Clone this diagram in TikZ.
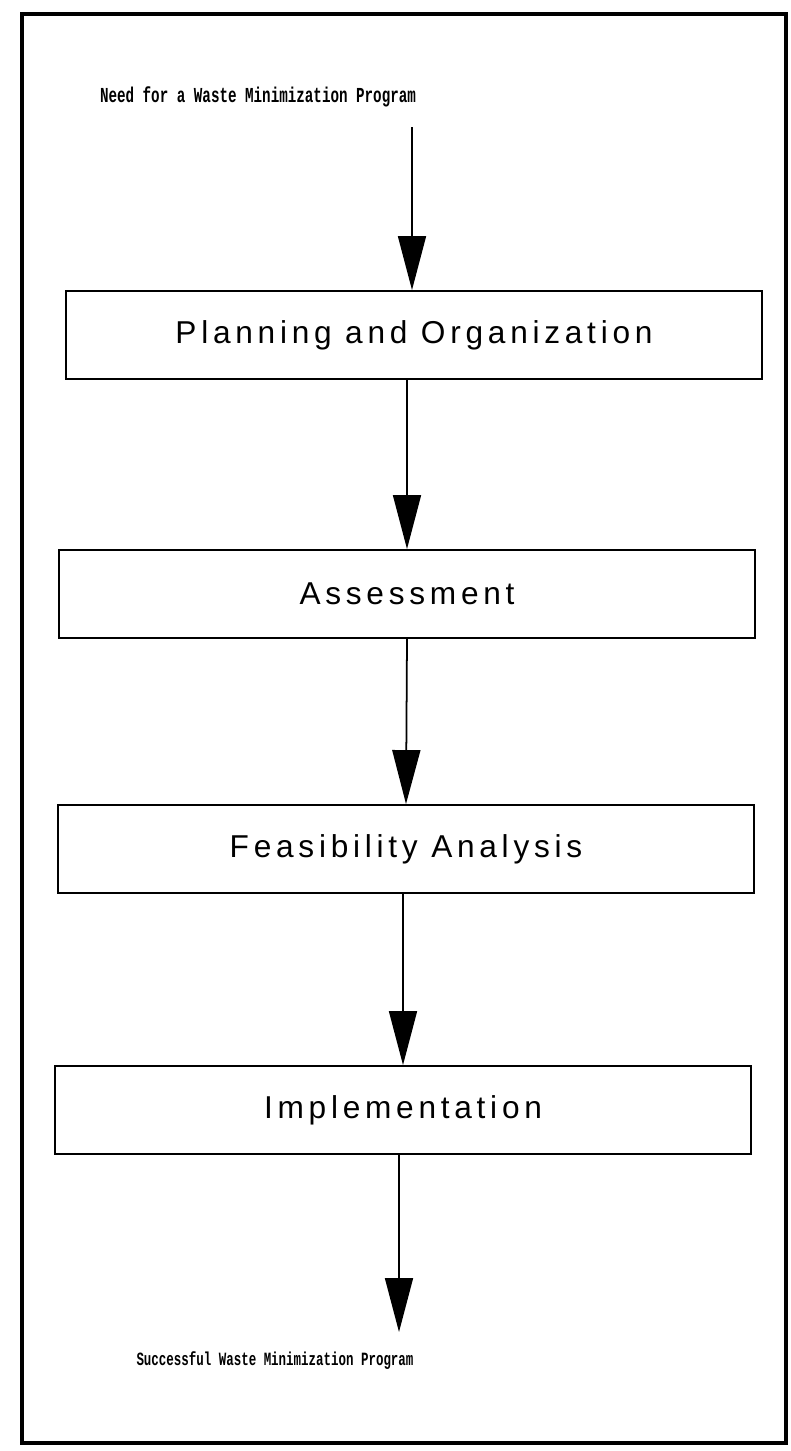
\documentclass[tikz,border=0pt]{standalone}
\usepackage{fontspec}
\setmainfont{Liberation Sans}
\newfontfamily\boxfont[LetterSpace=15]{Liberation Sans}
\newfontfamily\printfont{Liberation Mono}
\usetikzlibrary{positioning}
\usetikzlibrary{arrows.meta}

\newcommand{\printed}[1]{\scalebox{1}[1.5]{#1}}

\tikzset{
  stage/.style={draw, line width=1.1pt, minimum width=13.92cm, minimum height=1.76cm,
    inner sep=0pt, font=\boxfont\fontsize{18}{21}\selectfont},
  printtext/.style={inner sep=0pt, font=\printfont\bfseries\fontsize{#1}{10}\selectfont},
  printtext/.default=8.1,
  flow/.style={line width=1pt, -{Triangle[length=1.08cm, width=0.56cm]}},
  frame/.style={line width=1.8pt}
}

\begin{document}
\begin{tikzpicture}[x=0.02cm, y=-0.02cm]
    \useasboundingbox (0,0) rectangle (791,1451);
    % draw outer frame
    \draw[frame] (22,14) rectangle (786,1443);

    % draw nodes
    \node[printtext] (need) at (258,97) {\printed{Need for a Waste Minimization Program}};
    \coordinate (start) at (412,127);
    \node[stage] (plan) at (414,335) {Planning and Organization};
    \node[stage] (assess) at (407,594) {Assessment};
    \node[stage] (feas) at (406,849) {Feasibility Analysis};
    \node[stage] (impl) at (403,1110) {Implementation};
    \coordinate (finish) at (399,1332);
    \node[printtext=7.1] (success) at (275,1361) {\printed{Successful Waste Minimization Program}};

    % draw arrows
    \draw[flow] (start) -- (start |- plan.north);
    \draw[flow] (plan.south -| assess.north) -- (assess.north);
    \draw[flow] (assess.south) -- (feas.north);
    \draw[flow] (feas.south -| impl.north) -- (impl.north);
    \draw[flow] (impl.south -| finish) -- (finish);
\end{tikzpicture}
\end{document}
